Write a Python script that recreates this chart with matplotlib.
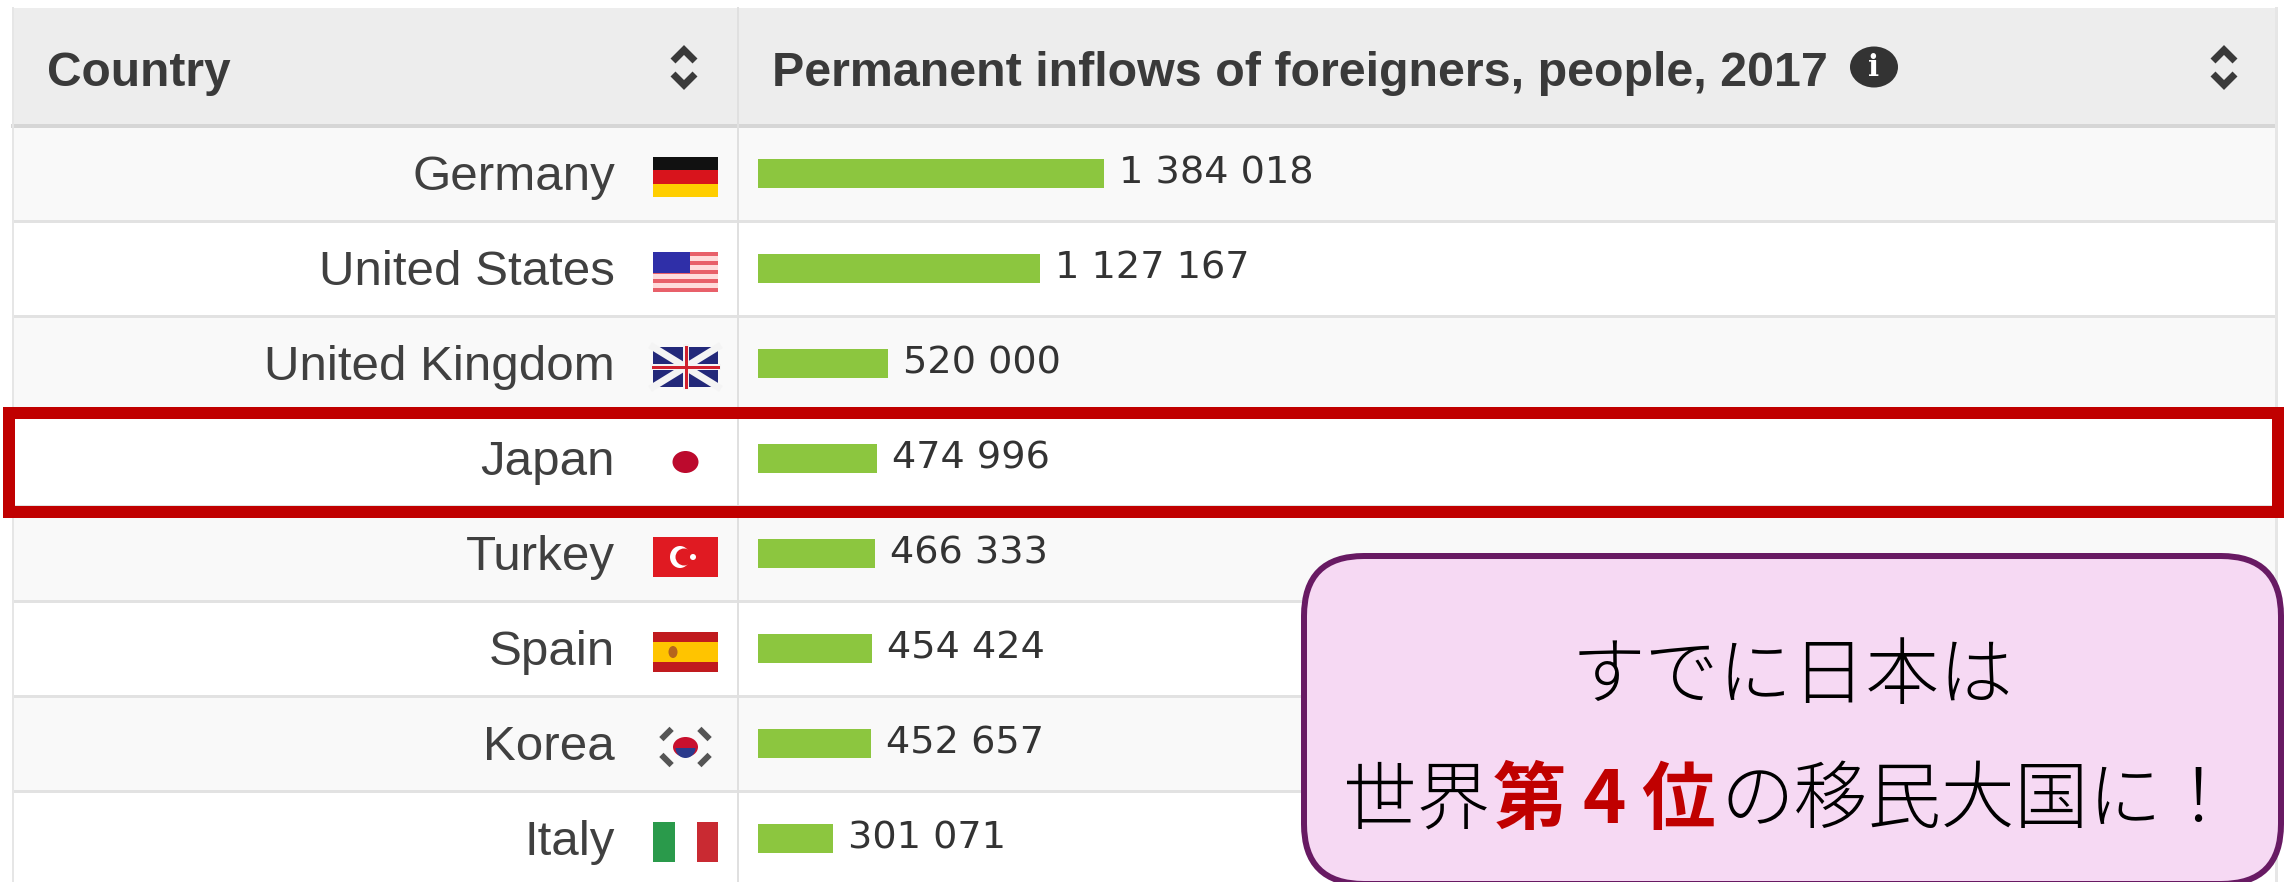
import matplotlib
matplotlib.use("Agg")
import matplotlib.pyplot as plt
from matplotlib.patches import Rectangle, FancyBboxPatch, Ellipse, Circle, Wedge

# -----------------------------------
# Data
# -----------------------------------

countries = ["Germany", "United States", "United Kingdom", "Japan",
             "Turkey", "Spain", "Korea", "Italy"]
inflows = [1384018, 1127167, 520000, 474996, 466333, 454424, 452657, 301071]
value_labels = ["1 384 018", "1 127 167", "520 000", "474 996",
                "466 333", "454 424", "452 657", "301 071"]
col_country = "Country"
col_inflows = "Permanent inflows of foreigners, people, 2017"

W, H = 2285, 882
ROW_TOP = 126
ROW_H = 95
BAR_LEFT = 758
TABLE_LEFT = 13
TABLE_RIGHT = 2276
DIVIDER = 738
PX_PER_PERSON = 0.00025

SANS = "Liberation Sans"
CJK = "Noto Sans CJK JP"
TEXT_COL = "#404040"
RED = "#C00000"

# -----------------------------------
# Page axes, in image pixels
# -----------------------------------

fig = plt.figure(figsize=(W / 100, H / 100), dpi=100, facecolor="white")
ax = fig.add_axes([0, 0, 1, 1])
ax.set_xlim(0, W)
ax.set_ylim(H, 0)
ax.axis("off")


def px(n):
    return n * 72 / 100


# header
ax.add_patch(Rectangle((TABLE_LEFT, 8), TABLE_RIGHT - TABLE_LEFT, ROW_TOP - 8,
                       fc="#EDEDED", ec="none"))
ax.plot([TABLE_LEFT, TABLE_RIGHT], [ROW_TOP, ROW_TOP], color="#D6D6D6", lw=px(4))
ax.text(47, 73, col_country, family=SANS, weight="bold", fontsize=34.5,
        color="#3A3A3A", va="center", ha="left")
ax.text(772, 73, col_inflows, family=SANS, weight="bold", fontsize=34.8,
        color="#3A3A3A", va="center", ha="left")


def sort_icon(cx):
    ax.plot([cx - 11, cx, cx + 11], [61, 50, 61], color="#3A3A3A", lw=px(7),
            solid_joinstyle="miter", solid_capstyle="butt")
    ax.plot([cx - 11, cx, cx + 11], [74, 85, 74], color="#3A3A3A", lw=px(7),
            solid_joinstyle="miter", solid_capstyle="butt")


sort_icon(684)
sort_icon(2224)
ax.add_patch(Ellipse((1874, 67), 48, 41, fc="#333333", ec="none"))
ax.text(1874, 67, "i", family="DejaVu Serif", weight="bold", fontsize=21,
        color="white", ha="center", va="center")

# rows
for i, name in enumerate(countries):
    top = ROW_TOP + i * ROW_H
    fill = "#F9F9F9" if i % 2 == 0 else "#FFFFFF"
    ax.add_patch(Rectangle((TABLE_LEFT, top), TABLE_RIGHT - TABLE_LEFT, ROW_H,
                           fc=fill, ec="none"))
    ax.plot([TABLE_LEFT, TABLE_RIGHT], [top + ROW_H, top + ROW_H],
            color="#E2E2E2", lw=px(3))
    ax.text(615, top + ROW_H / 2 + 4, name, family=SANS, fontsize=35.5,
            color=TEXT_COL, ha="right", va="center")

ax.plot([DIVIDER, DIVIDER], [8, H], color="#E0E0E0", lw=px(2))
ax.plot([TABLE_LEFT, TABLE_LEFT], [8, H], color="#E6E6E6", lw=px(2))
ax.plot([TABLE_RIGHT, TABLE_RIGHT], [8, H], color="#E6E6E6", lw=px(3))


# -----------------------------------
# Flags
# -----------------------------------

FX, FW, FH = 653, 65, 40


def flag_box(i):
    return ROW_TOP + i * ROW_H + 31


def hbands(y, colors, shares):
    cur = y
    for c, s in zip(colors, shares):
        ax.add_patch(Rectangle((FX, cur), FW, FH * s, fc=c, ec="none"))
        cur += FH * s


# Germany
hbands(flag_box(0), ["#111111", "#D8141C", "#FFCE00"], [1 / 3, 1 / 3, 1 / 3])

# United States
y = flag_box(1)
for s in range(9):
    ax.add_patch(Rectangle((FX, y + s * FH / 9), FW, FH / 9,
                           fc="#E8606A" if s % 2 == 0 else "#FFDCDC", ec="none"))
ax.add_patch(Rectangle((FX, y), 37, 21, fc="#2F2FA8", ec="none"))

# United Kingdom
y = flag_box(2)
ax.add_patch(Rectangle((FX, y), FW, FH, fc="#23297A", ec="none"))
ax.plot([FX, FX + FW], [y, y + FH], color="#F4F4F4", lw=px(7))
ax.plot([FX, FX + FW], [y + FH, y], color="#F4F4F4", lw=px(7))
ax.plot([FX + FW / 2, FX + FW / 2], [y, y + FH], color="#F4F4F4", lw=px(6))
ax.plot([FX, FX + FW], [y + FH / 2, y + FH / 2], color="#F4F4F4", lw=px(6))
ax.plot([FX + FW / 2, FX + FW / 2], [y, y + FH], color="#D0202E", lw=px(3))
ax.plot([FX, FX + FW], [y + FH / 2, y + FH / 2], color="#D0202E", lw=px(3))

# Japan
y = flag_box(3)
ax.add_patch(Ellipse((FX + FW / 2, y + FH / 2), 26, 22, fc="#BC0A2D", ec="none"))

# Turkey
y = flag_box(4)
ax.add_patch(Rectangle((FX, y), FW, FH, fc="#E01A22", ec="none"))
ax.add_patch(Ellipse((FX + 27, y + FH / 2), 20, 22, fc="white", ec="none"))
ax.add_patch(Ellipse((FX + 31, y + FH / 2), 17, 17, fc="#E01A22", ec="none"))
ax.add_patch(Circle((FX + 40, y + FH / 2), 3, fc="white", ec="none"))

# Spain
y = flag_box(5)
hbands(y, ["#C01A1E", "#FFC400", "#C01A1E"], [0.25, 0.5, 0.25])
ax.add_patch(Ellipse((FX + 20, y + FH / 2), 9, 12, fc="#B5651D", ec="none"))

# Korea
y = flag_box(6)
cx, cy = FX + FW / 2, y + FH / 2
ax.add_patch(Ellipse((cx, cy), 25, 20, fc="#C8102E", ec="none"))
ax.add_patch(Wedge((cx, cy + 1), 10, 0, 180, fc="#2A3A8C", ec="none"))
for dx, dy in [(-19, -13), (19, -13), (-19, 13), (19, 13)]:
    sign = 1 if dx * dy < 0 else -1
    ax.plot([cx + dx - 3, cx + dx + 3], [cy + dy - 3 * sign, cy + dy + 3 * sign],
            color="#555555", lw=px(6))

# Italy
y = flag_box(7)
ax.add_patch(Rectangle((FX, y), 22, FH, fc="#2A9A4B", ec="none"))
ax.add_patch(Rectangle((FX + 44, y), 21, FH, fc="#C92A32", ec="none"))

# -----------------------------------
# Bars
# -----------------------------------

bar_ax = fig.add_axes([BAR_LEFT / W, 0, (TABLE_RIGHT - BAR_LEFT) / W, 1])
bar_ax.patch.set_alpha(0)
bar_ax.axis("off")
bar_ax.set_xlim(0, (TABLE_RIGHT - BAR_LEFT) / PX_PER_PERSON)
# one y unit is one table row
bar_ax.set_ylim((H - ROW_TOP - ROW_H / 2) / ROW_H, -(ROW_TOP + ROW_H / 2) / ROW_H)
positions = list(range(len(countries)))
bar_ax.barh(positions, inflows, height=29 / ROW_H, color="#8CC63F")
for pos, v, label in zip(positions, inflows, value_labels):
    bar_ax.annotate(label, (v, pos), xytext=(15 * 0.72, 0),
                    textcoords="offset points", family="DejaVu Sans",
                    fontsize=27.5, color="#333333", va="center", ha="left")

# -----------------------------------
# Highlight box and callout
# -----------------------------------

over = fig.add_axes([0, 0, 1, 1])
over.patch.set_alpha(0)
over.set_xlim(0, W)
over.set_ylim(H, 0)
over.axis("off")

over.add_patch(Rectangle((8.5, 413), 2269.5, 99, fc="none", ec=RED, lw=px(12),
                         joinstyle="miter"))

over.add_patch(FancyBboxPatch((1304 + 60, 556 + 60), 977 - 120, 328 - 120,
                              boxstyle="round,pad=60,rounding_size=60",
                              fc="#F6D9F3", ec="#681A63", lw=px(6), clip_on=True))

over.text(1792, 678, "すでに日本は", family=CJK, fontsize=53, color="black",
          ha="center", va="center", weight="light")

for x, run, col, wt in [(1343, "世界", "black", "light"),
                        (1493, "第", RED, "bold"),
                        (1582, "4", RED, "bold"),
                        (1641, "位", RED, "bold"),
                        (1720, "の移民大国に！", "black", "light")]:
    over.text(x, 802, run, family=CJK, fontsize=53, color=col, ha="left",
              va="center", weight=wt)

fig.savefig("out.png", dpi=100)
plt.close(fig)
